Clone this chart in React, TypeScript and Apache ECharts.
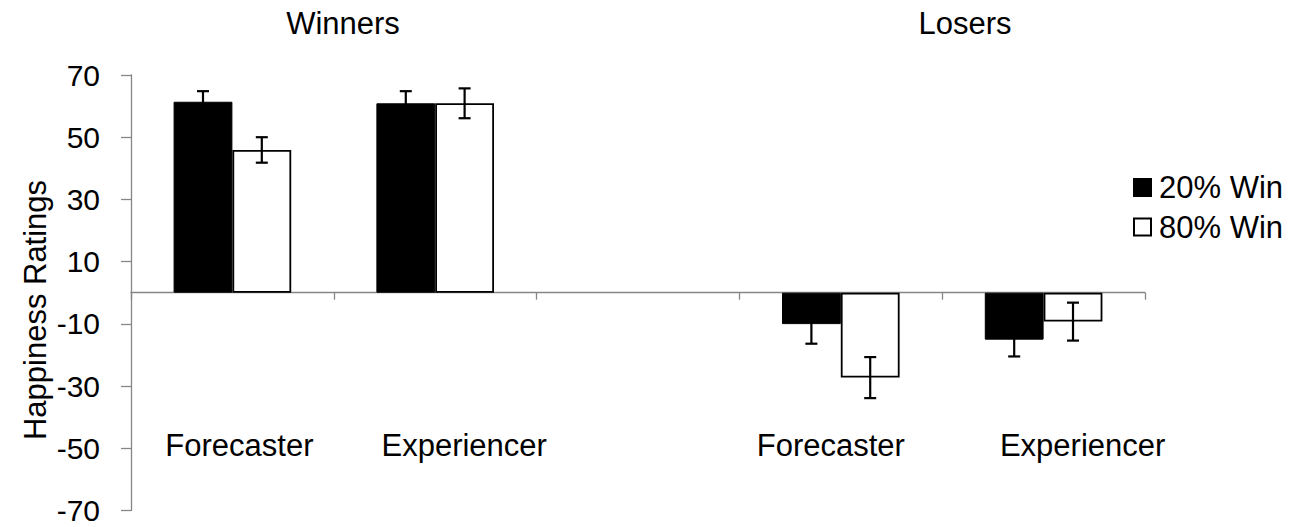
import React, { useEffect, useRef } from "react";
import * as echarts from "echarts";

const categories = ["Forecaster", "Experiencer", "", "Forecaster", "Experiencer"];
const groupTitles = ["Winners", "Losers"];
const seriesNames = ["20% Win", "80% Win"];
const win20 = [61.4, 60.9, null, -10.1, -15.1];
const win80 = [45.9, 60.9, null, -27.3, -9.3];
const err20 = [3.4, 3.9, null, 6.3, 5.4];
const err80 = [4.1, 4.8, null, 6.6, 6.1];
const yTicks = { min: -70, max: 70, interval: 20 };
const yName = "Happiness Ratings";

const FONT = "'Liberation Sans', Arial, sans-serif";
const FS = 31;
const CAT_GAP = 0.42;
const labelShift = [7, 29, 0, -10, 39];

function errData(vals: (number | null)[], errs: (number | null)[]) {
  const out: number[][] = [];
  vals.forEach((v, i) => {
    if (v !== null && errs[i] !== null) out.push([i, v, errs[i] as number]);
  });
  return out;
}

function makeErrRender(sign: number) {
  return (params: any, api: any) => {
    const cat = api.value(0);
    const val = api.value(1);
    const err = api.value(2);
    const c = api.coord([cat, val]);
    const band = api.size([1, 0])[0];
    const barW = (band * (1 - CAT_GAP)) / 2;
    const x = c[0] + (sign * barW) / 2;
    const yT = api.coord([cat, val + err])[1];
    const yB = api.coord([cat, val - err])[1];
    const cap = 6;
    const st = { stroke: "#000", lineWidth: 2.2 };
    return {
      type: "group",
      children: [
        { type: "line", shape: { x1: x, y1: yT, x2: x, y2: yB }, style: st },
        { type: "line", shape: { x1: x - cap, y1: yT, x2: x + cap, y2: yT }, style: st },
        { type: "line", shape: { x1: x - cap, y1: yB, x2: x + cap, y2: yB }, style: st },
      ],
    };
  };
}

export default function App() {
  const ref = useRef<HTMLDivElement>(null);
  useEffect(() => {
    document.body.style.margin = "0";
    const chart = echarts.init(ref.current!, null, { renderer: "svg" });
    const rich: any = {};
    labelShift.forEach((s, i) => {
      rich["s" + i] = {
        fontSize: FS,
        fontFamily: FONT,
        color: "#000",
        padding: s >= 0 ? [0, 0, 0, 2 * s] : [0, -2 * s, 0, 0],
      };
    });
    const axisColor = "#868686";
    chart.setOption({
      animation: false,
      textStyle: { fontFamily: FONT },
      title: [
        { text: groupTitles[0], left: 343, top: 8, padding: 0, textAlign: "center",
          textStyle: { fontSize: FS, fontWeight: "normal", color: "#000", fontFamily: FONT } },
        { text: groupTitles[1], left: 965, top: 8, padding: 0, textAlign: "center",
          textStyle: { fontSize: FS, fontWeight: "normal", color: "#000", fontFamily: FONT } },
      ],
      legend: {
        orient: "vertical",
        left: 1133,
        top: 172,
        padding: 0,
        itemGap: 8.5,
        itemWidth: 17,
        itemHeight: 17,
        icon: "rect",
        data: seriesNames,
        textStyle: { fontSize: FS, color: "#000", fontFamily: FONT, padding: [0, 0, 0, 3] },
      },
      grid: { left: 131, right: 149, top: 75, bottom: 16.6, containLabel: false, outerBoundsMode: "none" },
      xAxis: [
        {
          type: "category",
          data: categories,
          axisLine: { onZero: true, lineStyle: { color: axisColor, width: 1.3 } },
          axisTick: { show: true, length: 7, interval: 0, lineStyle: { color: axisColor, width: 1.3 } },
          axisLabel: { show: false },
          splitLine: { show: false },
        },
        {
          type: "category",
          data: categories,
          position: "bottom",
          offset: -88,
          axisLine: { show: false, onZero: false },
          axisTick: { show: false },
          axisLabel: {
            interval: 0,
            margin: 8,
            formatter: (v: string, i: number) => (v ? `{s${i}|${v}}` : ""),
            rich,
          },
          splitLine: { show: false },
        },
      ],
      yAxis: {
        type: "value",
        min: yTicks.min,
        max: yTicks.max,
        interval: yTicks.interval,
        axisLine: { show: true, lineStyle: { color: axisColor, width: 1.3 } },
        axisTick: { show: true, length: 10, lineStyle: { color: axisColor, width: 1.3 } },
        axisLabel: { fontSize: FS - 1, color: "#000", margin: 31, fontFamily: FONT },
        splitLine: { show: false },
      },
      graphic: [
        {
          type: "text",
          x: 35,
          y: 310,
          rotation: Math.PI / 2,
          style: {
            text: yName,
            fontSize: FS,
            fontFamily: FONT,
            fill: "#000",
            textAlign: "center",
            textVerticalAlign: "middle",
          },
        },
      ],
      series: [
        {
          name: seriesNames[0],
          type: "bar",
          data: win20.map((v) => (v === null ? "-" : v)),
          barGap: "0%",
          barCategoryGap: CAT_GAP * 100 + "%",
          itemStyle: { color: "#000", borderColor: "#000", borderWidth: 1 },
          z: 2,
        },
        {
          name: seriesNames[1],
          type: "bar",
          data: win80.map((v) => (v === null ? "-" : v)),
          barGap: "0%",
          barCategoryGap: CAT_GAP * 100 + "%",
          itemStyle: { color: "#fff", borderColor: "#000", borderWidth: 1.8 },
          z: 2,
        },
        {
          type: "custom",
          name: "err20",
          data: errData(win20, err20),
          renderItem: makeErrRender(-1),
          encode: { x: 0, y: 1 },
          z: 5,
          silent: true,
        },
        {
          type: "custom",
          name: "err80",
          data: errData(win80, err80),
          renderItem: makeErrRender(1),
          encode: { x: 0, y: 1 },
          z: 5,
          silent: true,
        },
      ],
    });
    return () => chart.dispose();
  }, []);
  return <div ref={ref} style={{ width: 1294, height: 527 }} />;
}
